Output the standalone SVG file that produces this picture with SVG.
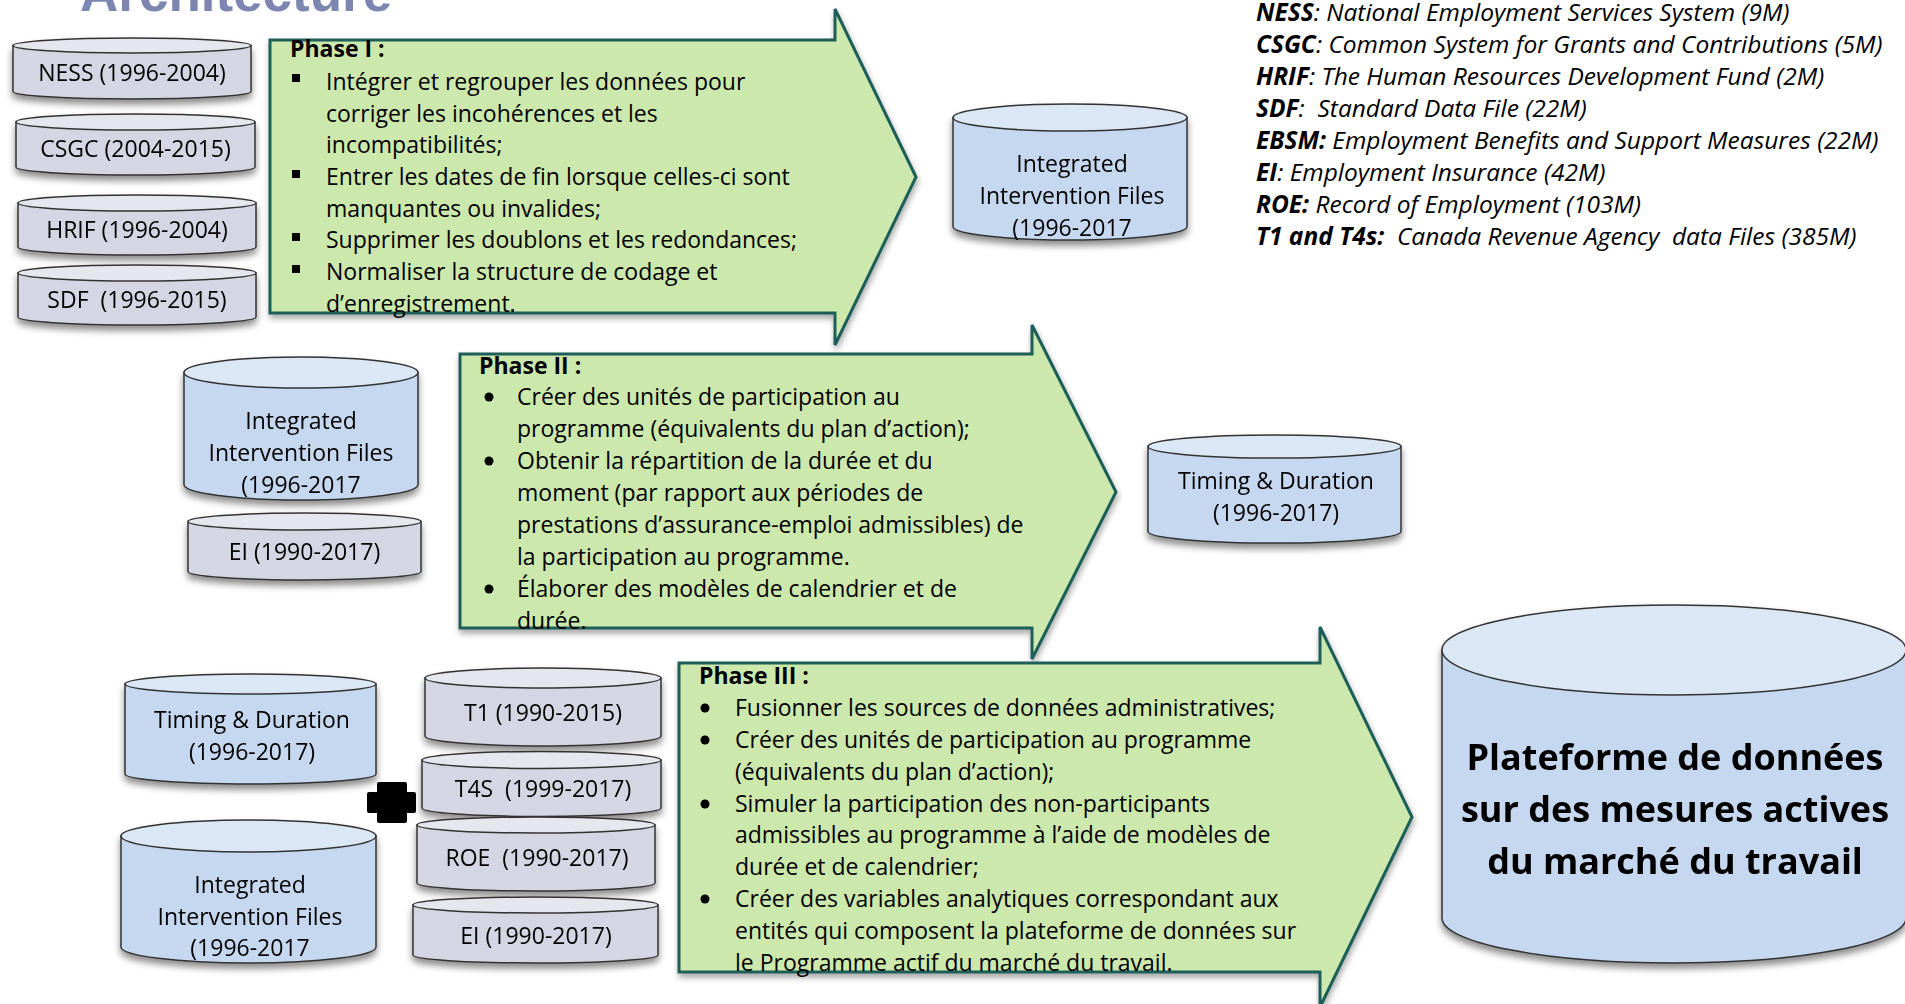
<svg xmlns="http://www.w3.org/2000/svg" width="1905" height="1004" viewBox="0 0 1905 1004">
<defs>
<filter id="sh" x="-10%" y="-10%" width="120%" height="130%">
<feDropShadow dx="0" dy="5" stdDeviation="3.5" flood-color="#000" flood-opacity="0.45"/>
</filter>
<filter id="sha" x="-5%" y="-5%" width="110%" height="115%">
<feDropShadow dx="1" dy="4" stdDeviation="3" flood-color="#000" flood-opacity="0.35"/>
</filter>
</defs>
<style>
.t{font-family:"Open Sans","Noto Sans","DejaVu Sans",sans-serif;fill:#000;}
.lbl{font-size:23px;text-anchor:middle;}
.ph{font-size:23px;}
.b{font-weight:bold;}
.leg{font-size:24.5px;font-style:italic;}
.big{font-size:36px;font-weight:bold;text-anchor:middle;}
.gbody{fill:#d4d7e3;stroke:#333;stroke-width:1.5;}
.gtop{fill:#e5e7ef;stroke:#333;stroke-width:1.5;}
.bbody{fill:#c6d8ef;stroke:#333;stroke-width:1.5;}
.btop{fill:#dce7f5;stroke:#333;stroke-width:1.5;}
.arrow{fill:#cce8ad;stroke:#1e5f58;stroke-width:3;stroke-linejoin:miter;}
.sq{fill:#000;}
</style>
<rect width="1905" height="1004" fill="#fff"/>
<text x="80" y="11" font-family="'Liberation Sans',Arial,sans-serif" font-size="53" font-weight="bold" fill="#7d85b1">Architecture</text>

<g id="connectors"></g>

<!-- Phase I arrow -->
<g id="phase1">
<polygon class="arrow" filter="url(#sha)" points="270,40 835,40 835,9 916,177 835,345 835,313 270,313"/>
<text class="t ph b" x="290" y="57">Phase I :</text>
<rect class="sq" x="292" y="74" width="8" height="8"/>
<rect class="sq" x="292" y="170" width="8" height="8"/>
<rect class="sq" x="292" y="233" width="8" height="8"/>
<rect class="sq" x="292" y="265" width="8" height="8"/>
<text class="t ph" x="326" y="90">Intégrer et regrouper les données pour</text>
<text class="t ph" x="326" y="122">corriger les incohérences et les</text>
<text class="t ph" x="326" y="153">incompatibilités;</text>
<text class="t ph" x="326" y="185">Entrer les dates de fin lorsque celles-ci sont</text>
<text class="t ph" x="326" y="217">manquantes ou invalides;</text>
<text class="t ph" x="326" y="248">Supprimer les doublons et les redondances;</text>
<text class="t ph" x="326" y="280">Normaliser la structure de codage et</text>
<text class="t ph" x="326" y="312">d’enregistrement.</text>
</g>

<!-- Phase II arrow -->
<g id="phase2">
<polygon class="arrow" filter="url(#sha)" points="460,354 1032,354 1032,325 1116,492 1032,659 1032,628 460,628"/>
<text class="t ph b" x="479" y="374">Phase II :</text>
<circle cx="489" cy="397" r="4.5"/>
<circle cx="489" cy="461" r="4.5"/>
<circle cx="489" cy="589" r="4.5"/>
<text class="t ph" x="517" y="405">Créer des unités de participation au</text>
<text class="t ph" x="517" y="437">programme (équivalents du plan d’action);</text>
<text class="t ph" x="517" y="469">Obtenir la répartition de la durée et du</text>
<text class="t ph" x="517" y="501">moment (par rapport aux périodes de</text>
<text class="t ph" x="517" y="533">prestations d’assurance-emploi admissibles) de</text>
<text class="t ph" x="517" y="565">la participation au programme.</text>
<text class="t ph" x="517" y="597">Élaborer des modèles de calendrier et de</text>
<text class="t ph" x="517" y="629">durée.</text>
</g>

<!-- Phase III arrow -->
<g id="phase3">
<polygon class="arrow" filter="url(#sha)" points="679,663 1320,663 1320,627 1412,817 1320,1007 1320,972 679,972"/>
<text class="t ph b" x="699" y="684">Phase III :</text>
<circle cx="705" cy="708" r="4.5"/>
<circle cx="705" cy="740" r="4.5"/>
<circle cx="705" cy="804" r="4.5"/>
<circle cx="705" cy="899" r="4.5"/>
<text class="t ph" x="735" y="716">Fusionner les sources de données administratives;</text>
<text class="t ph" x="735" y="748">Créer des unités de participation au programme</text>
<text class="t ph" x="735" y="780">(équivalents du plan d’action);</text>
<text class="t ph" x="735" y="812">Simuler la participation des non-participants</text>
<text class="t ph" x="735" y="843">admissibles au programme à l’aide de modèles de</text>
<text class="t ph" x="735" y="875">durée et de calendrier;</text>
<text class="t ph" x="735" y="907">Créer des variables analytiques correspondant aux</text>
<text class="t ph" x="735" y="939">entités qui composent la plateforme de données sur</text>
<text class="t ph" x="735" y="971">le Programme actif du marché du travail.</text>
</g>

<!-- Gray cylinders, phase I inputs -->
<g id="ness" filter="url(#sh)">
<path class="gbody" d="M13,45.5 L13,91.5 A119,7.5 0 0 0 251,91.5 L251,45.5 Z"/>
<ellipse class="gtop" cx="132" cy="45.5" rx="119" ry="7.5"/>
<text class="t lbl" x="132" y="81">NESS (1996-2004)</text>
</g>
<g id="csgc" filter="url(#sh)">
<path class="gbody" d="M16,122 L16,167 A119.5,8 0 0 0 255,167 L255,122 Z"/>
<ellipse class="gtop" cx="135.5" cy="122" rx="119.5" ry="8"/>
<text class="t lbl" x="135.5" y="157">CSGC (2004-2015)</text>
</g>
<g id="hrif" filter="url(#sh)">
<path class="gbody" d="M18,203 L18,247 A119,8 0 0 0 256,247 L256,203 Z"/>
<ellipse class="gtop" cx="137" cy="203" rx="119" ry="8"/>
<text class="t lbl" x="137" y="238">HRIF (1996-2004)</text>
</g>
<g id="sdf" filter="url(#sh)">
<path class="gbody" d="M18,273 L18,317 A119,8 0 0 0 256,317 L256,273 Z"/>
<ellipse class="gtop" cx="137" cy="273" rx="119" ry="8"/>
<text class="t lbl" x="137" y="308" xml:space="preserve">SDF  (1996-2015)</text>
</g>

<!-- Integrated output phase I -->
<g id="iif1" filter="url(#sh)">
<path class="bbody" d="M953,117.5 L953,226.5 A117,13.5 0 0 0 1187,226.5 L1187,117.5 Z"/>
<ellipse class="btop" cx="1070" cy="117.5" rx="117" ry="13.5"/>
<text class="t lbl" x="1072" y="172">Integrated</text>
<text class="t lbl" x="1072" y="204">Intervention Files</text>
<text class="t lbl" x="1072" y="236">(1996-2017</text>
</g>

<!-- Phase II inputs -->
<g id="iif2" filter="url(#sh)">
<path class="bbody" d="M184,372.5 L184,484.5 A117,15.5 0 0 0 418,484.5 L418,372.5 Z"/>
<ellipse class="btop" cx="301" cy="372.5" rx="117" ry="15.5"/>
<text class="t lbl" x="301" y="429">Integrated</text>
<text class="t lbl" x="301" y="461">Intervention Files</text>
<text class="t lbl" x="301" y="493">(1996-2017</text>
</g>
<g id="ei1" filter="url(#sh)">
<path class="gbody" d="M188,521.5 L188,571.5 A116.5,8.5 0 0 0 421,571.5 L421,521.5 Z"/>
<ellipse class="gtop" cx="304.5" cy="521.5" rx="116.5" ry="8.5"/>
<text class="t lbl" x="304.5" y="560">EI (1990-2017)</text>
</g>

<!-- Timing output phase II -->
<g id="timing1" filter="url(#sh)">
<path class="bbody" d="M1148,446.5 L1148,531.5 A126.5,11.5 0 0 0 1401,531.5 L1401,446.5 Z"/>
<ellipse class="btop" cx="1274.5" cy="446.5" rx="126.5" ry="11.5"/>
<text class="t lbl" x="1276" y="489">Timing &amp; Duration</text>
<text class="t lbl" x="1276" y="521">(1996-2017)</text>
</g>

<!-- Phase III inputs -->
<g id="timing2" filter="url(#sh)">
<path class="bbody" d="M125,684 L125,774 A125.5,10 0 0 0 376,774 L376,684 Z"/>
<ellipse class="btop" cx="250.5" cy="684" rx="125.5" ry="10"/>
<text class="t lbl" x="252" y="728">Timing &amp; Duration</text>
<text class="t lbl" x="252" y="760">(1996-2017)</text>
</g>
<g id="iif3" filter="url(#sh)">
<path class="bbody" d="M121,836 L121,947 A127.5,16 0 0 0 376,947 L376,836 Z"/>
<ellipse class="btop" cx="248.5" cy="836" rx="127.5" ry="16"/>
<text class="t lbl" x="250" y="893">Integrated</text>
<text class="t lbl" x="250" y="925">Intervention Files</text>
<text class="t lbl" x="250" y="956">(1996-2017</text>
</g>
<g id="t1" filter="url(#sh)">
<path class="gbody" d="M425,678 L425,736 A118,10 0 0 0 661,736 L661,678 Z"/>
<ellipse class="gtop" cx="543" cy="678" rx="118" ry="10"/>
<text class="t lbl" x="543" y="721">T1 (1990-2015)</text>
</g>
<g id="t4s" filter="url(#sh)">
<path class="gbody" d="M422,760 L422,808 A119.5,8.5 0 0 0 661,808 L661,760 Z"/>
<ellipse class="gtop" cx="541.5" cy="760" rx="119.5" ry="8.5"/>
<text class="t lbl" x="543" y="797" xml:space="preserve">T4S  (1999-2017)</text>
</g>
<g id="roe" filter="url(#sh)">
<path class="gbody" d="M417,825 L417,883 A119,8 0 0 0 655,883 L655,825 Z"/>
<ellipse class="gtop" cx="536" cy="825" rx="119" ry="8"/>
<text class="t lbl" x="537" y="866" xml:space="preserve">ROE  (1990-2017)</text>
</g>
<g id="ei2" filter="url(#sh)">
<path class="gbody" d="M413,905 L413,955 A122.5,8 0 0 0 658,955 L658,905 Z"/>
<ellipse class="gtop" cx="535.5" cy="905" rx="122.5" ry="8"/>
<text class="t lbl" x="536" y="944">EI (1990-2017)</text>
</g>

<!-- plus -->
<g id="plus">
<rect x="377" y="782" width="30" height="41" rx="2" fill="#000"/>
<rect x="367" y="792" width="49" height="21" rx="2" fill="#000"/>
</g>

<!-- Final platform -->
<g id="platform" filter="url(#sh)">
<path class="bbody" d="M1442,650 L1442,918 A232,45 0 0 0 1906,918 L1906,650 Z"/>
<ellipse class="btop" cx="1674" cy="650" rx="232" ry="45"/>
<text class="t big" x="1675" y="770">Plateforme de données</text>
<text class="t big" x="1675" y="822">sur des mesures actives</text>
<text class="t big" x="1675" y="874">du marché du travail</text>
</g>

<!-- Legend -->
<g id="legend">
<text class="t leg" x="1256" y="21"><tspan font-weight="bold">NESS</tspan>: National Employment Services System (9M)</text>
<text class="t leg" x="1256" y="53"><tspan font-weight="bold">CSGC</tspan>: Common System for Grants and Contributions (5M)</text>
<text class="t leg" x="1256" y="85"><tspan font-weight="bold">HRIF</tspan>: The Human Resources Development Fund (2M)</text>
<text class="t leg" x="1256" y="117" xml:space="preserve"><tspan font-weight="bold">SDF</tspan>:  Standard Data File (22M)</text>
<text class="t leg" x="1256" y="149"><tspan font-weight="bold">EBSM:</tspan> Employment Benefits and Support Measures (22M)</text>
<text class="t leg" x="1256" y="181"><tspan font-weight="bold">EI</tspan>: Employment Insurance (42M)</text>
<text class="t leg" x="1256" y="213"><tspan font-weight="bold">ROE:</tspan> Record of Employment (103M)</text>
<text class="t leg" x="1256" y="245" xml:space="preserve"><tspan font-weight="bold">T1 and T4s:</tspan>  Canada Revenue Agency  data Files (385M)</text>
</g>
</svg>
